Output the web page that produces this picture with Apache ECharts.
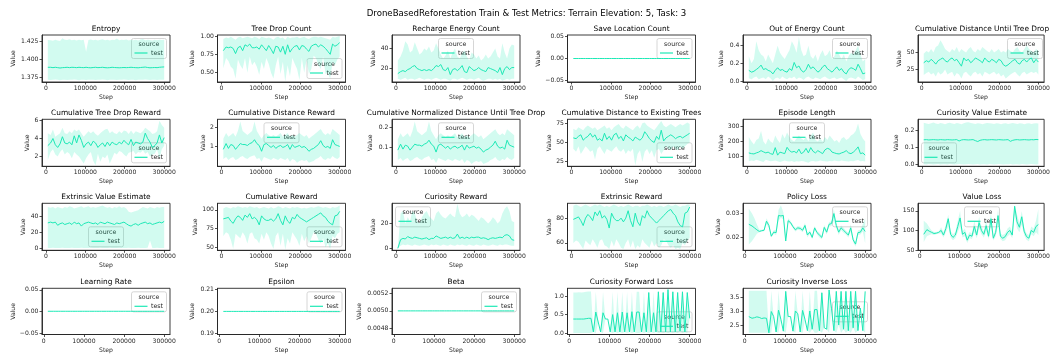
<!DOCTYPE html>
<html>
<head>
<meta charset="utf-8">
<script src="https://cdn.jsdelivr.net/npm/echarts@6/dist/echarts.min.js"></script>
<style>
html,body{margin:0;padding:0;background:#fff}
#chart{width:1053px;height:354px}
</style>
</head>
<body>
<div id="chart"></div>
<script>
// ---- data ----
var STEPS = [5000,12000,18000,24000,30000,36000,42000,48000,54000,60000,
  66000,72000,78000,84000,90000,96000,102000,108000,114000,120000,
  126000,132000,138000,144000,150000,156000,162000,168000,174000,180000,
  186000,192000,198000,204000,210000,216000,222000,228000,234000,240000,
  246000,252000,258000,264000,270000,276000,282000,288000,294000,300000];
var LOSS_STEPS = [10000,18000,24000,30000,36000,42000,48000,54000,60000,66000,
  72000,78000,84000,90000,96000,102000,108000,114000,120000,126000,
  132000,138000,144000,150000,156000,162000,168000,174000,180000,186000,
  192000,198000,204000,210000,216000,222000,228000,234000,240000,246000,
  252000,258000,264000,270000,276000,282000,288000,294000,300000];
var X_TICKS = [0, 100000, 200000, 300000];

var entropyMean = [1.3885,1.3885,1.3880,1.3885,1.3880,1.3875,1.3880,1.3882,1.3885,1.3880,
  1.3885,1.3883,1.3880,1.3885,1.3882,1.3880,1.3885,1.3880,1.3878,1.3882,
  1.3885,1.3880,1.3882,1.3885,1.3880,1.3878,1.3880,1.3885,1.3882,1.3880,
  1.3878,1.3880,1.3882,1.3880,1.3882,1.3885,1.3882,1.3880,1.3878,1.3882,
  1.3885,1.3888,1.3882,1.3878,1.3880,1.3882,1.3880,1.3885,1.3888,1.3890];
var entropyLo = [1.3712,1.3708,1.3710,1.3715,1.3710,1.3706,1.3712,1.3710,1.3708,1.3712,
  1.3710,1.3714,1.3710,1.3706,1.3710,1.3712,1.3708,1.3710,1.3713,1.3710,
  1.3708,1.3712,1.3710,1.3714,1.3710,1.3706,1.3710,1.3712,1.3710,1.3708,
  1.3712,1.3710,1.3714,1.3710,1.3708,1.3712,1.3710,1.3706,1.3710,1.3712,
  1.3710,1.3714,1.3710,1.3708,1.3712,1.3710,1.3708,1.3712,1.3710,1.3712];
var entropyHi = [1.4265,1.4262,1.4255,1.4270,1.4260,1.4250,1.4290,1.4270,1.4265,1.4275,
  1.4262,1.4270,1.4258,1.4268,1.4262,1.4270,1.4100,1.4265,1.4272,1.4262,
  1.4268,1.4260,1.4270,1.4275,1.4262,1.4268,1.4258,1.4270,1.4265,1.4285,
  1.4262,1.4270,1.4266,1.4272,1.4260,1.4268,1.4262,1.4270,1.4258,1.4272,
  1.4280,1.4262,1.4270,1.4266,1.4260,1.4268,1.4262,1.4270,1.4265,1.4268];

var treeMean = [0.80,0.85,0.84,0.85,0.83,0.76,0.84,0.86,0.80,0.88,
  0.86,0.89,0.84,0.84,0.85,0.82,0.88,0.84,0.80,0.87,
  0.82,0.76,0.86,0.85,0.78,0.86,0.75,0.88,0.78,0.83,
  0.86,0.87,0.81,0.87,0.86,0.82,0.79,0.86,0.88,0.89,
  0.85,0.88,0.86,0.83,0.79,0.75,0.89,0.86,0.88,0.91];
var treeLo = [0.56,0.70,0.66,0.58,0.55,0.42,0.68,0.60,0.55,0.70,
  0.50,0.72,0.60,0.65,0.58,0.47,0.65,0.55,0.70,0.62,
  0.50,0.42,0.60,0.72,0.48,0.65,0.38,0.60,0.45,0.70,
  0.62,0.55,0.40,0.70,0.50,0.68,0.48,0.55,0.73,0.70,
  0.60,0.55,0.72,0.48,0.50,0.42,0.65,0.60,0.68,0.72];
var treeHi = [0.96,0.98,0.97,0.99,0.97,0.95,0.98,0.99,0.97,0.98,
  0.99,0.98,0.97,0.99,0.98,0.96,0.99,0.98,0.97,0.98,
  0.97,0.95,0.98,0.99,0.97,0.98,0.95,0.99,0.97,0.98,
  0.98,0.99,0.97,0.98,0.99,0.97,0.96,0.98,0.99,0.99,
  0.98,0.99,0.98,0.97,0.96,0.95,0.99,0.98,0.99,1.00];

var rechargeMean = [15,17,18,17,19,20,22,23,20,19,
  18,19,18,19,18,20,23,22,24,19,
  18,21,14,19,20,18,20,23,17,16,
  22,20,18,19,21,19,18,17,21,20,
  19,18,16,21,14,20,22,19,21,21];
var rechargeLo = [10,9,10,11,9,10,10,9,10,11,
  10,9,10,10,9,10,11,10,9,10,
  10,9,8,10,10,9,10,11,10,9,
  10,10,9,10,11,9,8,9,10,10,
  9,10,9,10,8,9,10,9,10,10];
var rechargeHi = [28,32,38,47,44,36,38,46,40,34,
  36,40,38,42,36,38,45,40,34,30,
  33,38,30,36,40,32,30,35,38,32,
  28,36,34,30,33,28,30,34,30,32,
  36,40,32,30,45,36,30,40,44,43];

var saveMean = [0,0,0,0,0,0,0,0,0,0, 0,0,0,0,0,0,0,0,0,0, 0,0,0,0,0,0,0,0,0,0,
  0,0,0,0,0,0,0,0,0,0, 0,0,0,0,0,0,0,0,0,0];

var energyMean = [0.12,0.10,0.11,0.13,0.15,0.18,0.13,0.14,0.12,0.11,
  0.08,0.12,0.15,0.12,0.13,0.11,0.10,0.14,0.12,0.21,
  0.15,0.17,0.12,0.10,0.13,0.19,0.14,0.16,0.13,0.10,
  0.12,0.16,0.18,0.14,0.12,0.10,0.13,0.16,0.12,0.14,
  0.10,0.08,0.13,0.15,0.14,0.12,0.19,0.14,0.08,0.09];
var energyLo = [0.03,0.02,0.04,0.05,0.02,0.03,0.04,0.02,0.05,0.03,
  0.00,0.03,0.04,0.02,0.05,0.03,0.02,0.04,0.03,0.05,
  0.02,0.04,0.03,0.01,0.04,0.05,0.03,0.02,0.04,0.03,
  0.02,0.04,0.05,0.03,0.02,0.03,0.04,0.02,0.03,0.04,
  0.02,0.00,0.03,0.04,0.03,0.02,0.05,0.03,0.01,0.02];
var energyHi = [0.28,0.20,0.25,0.45,0.35,0.30,0.28,0.22,0.30,0.25,
  0.20,0.30,0.40,0.32,0.28,0.25,0.30,0.35,0.45,0.40,
  0.32,0.50,0.35,0.28,0.30,0.40,0.28,0.25,0.30,0.22,
  0.30,0.35,0.28,0.30,0.35,0.25,0.28,0.35,0.30,0.25,
  0.30,0.22,0.28,0.32,0.30,0.35,0.40,0.30,0.22,0.25];

var distDropMean = [35,38,36,40,37,33,38,40,42,38,
  36,40,42,38,40,35,30,42,38,40,
  35,38,42,40,38,35,42,38,36,40,
  38,35,40,38,32,30,32,35,38,40,
  35,33,38,40,36,40,42,35,40,36];
var distDropLo = [17,20,22,18,20,15,22,18,20,25,
  18,20,22,15,20,18,12,20,22,18,
  15,20,22,18,20,15,22,20,18,20,
  22,18,20,15,18,12,15,18,20,22,
  18,15,20,22,18,20,22,20,22,18];
var distDropHi = [48,52,50,55,50,58,60,68,62,55,
  52,50,55,52,58,50,55,52,50,55,
  58,52,50,55,52,58,55,52,50,55,
  50,52,55,50,52,50,55,52,50,55,
  58,52,50,55,60,55,52,50,55,52];

var dropRewardMean = [3.2,3.5,4.0,3.3,3.0,3.4,4.2,3.5,3.4,3.6,
  3.3,4.3,3.5,4.4,3.8,3.0,3.4,3.6,3.2,3.7,
  3.5,3.0,3.3,3.5,3.1,3.6,3.2,3.6,3.4,3.3,
  3.6,3.4,3.8,3.5,3.3,3.9,3.2,3.6,3.5,3.4,
  3.6,4.6,4.0,3.6,3.0,3.2,3.5,4.4,3.5,4.1];
var dropRewardLo = [1.6,2.5,2.8,2.2,2.0,2.5,2.8,2.2,2.5,2.3,
  1.8,2.5,2.2,2.0,1.6,1.2,1.8,2.2,2.5,1.5,
  1.0,2.3,1.4,2.0,1.8,2.2,1.2,1.8,2.4,2.2,
  2.6,2.5,2.2,2.0,2.4,2.5,2.6,2.2,2.5,2.4,
  2.7,2.3,2.5,2.0,2.2,2.3,2.8,1.8,2.8,3.2];
var dropRewardHi = [4.6,4.4,5.0,4.2,4.4,4.6,5.2,4.6,4.5,4.8,
  4.6,5.0,4.8,5.0,4.6,4.2,4.5,4.8,4.6,4.8,
  4.5,4.3,4.6,4.8,5.0,5.1,4.6,4.8,4.6,4.5,
  4.8,4.6,4.9,4.8,4.5,4.9,4.5,4.8,4.7,4.6,
  4.8,5.2,5.0,4.8,4.5,4.6,4.8,6.0,5.5,5.2];

var distRewardMean = [0.85,1.15,0.90,1.10,1.05,0.85,1.00,1.15,1.10,1.10,
  1.05,1.15,1.20,1.35,1.15,1.05,0.75,1.10,1.15,1.05,
  0.95,1.05,0.90,1.00,1.05,0.95,1.00,1.10,0.85,1.10,
  0.95,1.00,1.05,0.95,1.00,0.90,0.75,0.85,0.90,1.00,
  1.10,1.30,1.05,0.95,1.00,0.90,1.35,1.10,1.05,1.00];
var distRewardLo = [0.35,0.45,0.30,0.40,0.45,0.30,0.35,0.45,0.50,0.40,
  0.35,0.45,0.50,0.55,0.35,0.40,0.20,0.45,0.40,0.35,
  0.30,0.40,0.35,0.30,0.40,0.35,0.30,0.40,0.20,0.35,
  0.30,0.15,0.25,0.30,0.25,0.30,0.15,0.20,0.25,0.35,
  0.40,0.50,0.35,0.30,0.40,0.35,0.50,0.40,0.35,0.45];
var distRewardHi = [1.40,1.70,1.50,1.60,1.70,1.50,1.80,2.30,1.80,1.70,
  1.60,1.70,1.80,2.30,1.80,1.60,1.40,1.60,1.70,1.60,
  1.50,1.60,1.50,1.60,1.70,1.50,1.60,1.70,1.50,1.60,
  1.50,1.60,1.70,1.60,1.50,1.60,1.40,1.50,1.60,1.70,
  1.80,1.90,1.70,1.60,1.70,1.60,1.90,1.80,1.70,1.60];

var normDistMean = [0.085,0.115,0.090,0.110,0.105,0.085,0.100,0.115,0.110,0.110,
  0.105,0.115,0.120,0.135,0.115,0.105,0.075,0.110,0.115,0.105,
  0.095,0.105,0.090,0.100,0.105,0.095,0.100,0.110,0.085,0.110,
  0.095,0.100,0.105,0.095,0.100,0.090,0.075,0.085,0.090,0.100,
  0.110,0.130,0.105,0.095,0.100,0.090,0.135,0.110,0.105,0.100];
var normDistLo = [0.035,0.045,0.030,0.040,0.045,0.030,0.035,0.045,0.050,0.040,
  0.035,0.045,0.050,0.055,0.035,0.040,0.020,0.045,0.040,0.035,
  0.030,0.040,0.035,0.030,0.040,0.035,0.030,0.040,0.020,0.035,
  0.030,0.015,0.025,0.030,0.025,0.030,0.015,0.020,0.025,0.035,
  0.040,0.050,0.035,0.030,0.040,0.035,0.050,0.040,0.035,0.045];
var normDistHi = [0.140,0.170,0.150,0.160,0.170,0.150,0.180,0.230,0.180,0.170,
  0.160,0.170,0.180,0.230,0.180,0.160,0.140,0.160,0.170,0.160,
  0.150,0.160,0.150,0.160,0.170,0.150,0.160,0.170,0.150,0.160,
  0.150,0.160,0.170,0.160,0.150,0.160,0.140,0.150,0.160,0.170,
  0.180,0.190,0.170,0.160,0.170,0.160,0.190,0.180,0.170,0.160];

var treesDistMean = [56,55,58,60,53,56,58,62,57,60,
  53,55,52,62,54,58,53,60,62,55,
  58,52,60,57,55,52,57,55,53,56,
  64,60,55,52,50,58,54,66,52,56,
  58,60,58,55,57,58,56,58,60,62];
var treesDistLo = [42,38,45,35,40,45,42,38,40,28,
  42,45,40,35,42,40,38,42,45,40,
  38,42,35,40,38,42,20,35,40,25,
  38,42,35,40,30,40,42,35,40,45,
  42,40,45,42,40,45,42,45,48,50];
var treesDistHi = [68,66,70,68,66,70,72,70,68,70,
  66,68,70,72,68,70,66,70,72,74,
  70,68,72,70,68,66,70,72,68,75,
  76,72,70,68,66,70,74,78,72,70,
  72,74,72,70,72,74,72,74,76,74];

var episodeMean = [125,120,118,125,130,140,132,125,130,120,
  115,160,110,130,125,120,162,140,130,135,
  125,150,120,130,155,125,160,135,125,140,
  130,120,145,155,150,130,125,120,118,125,
  130,140,125,120,130,145,165,120,125,110];
var episodeLo = [70,75,72,80,75,70,65,80,75,70,
  72,75,70,65,70,75,70,68,72,65,
  70,68,72,70,65,60,70,72,68,70,
  75,72,70,68,72,70,75,72,70,75,
  72,70,68,72,70,75,78,70,72,68];
var episodeHi = [230,200,180,210,220,270,200,180,220,200,
  190,240,210,190,250,220,260,230,210,200,
  220,240,220,210,230,200,240,260,210,200,
  220,200,230,210,240,220,200,210,190,220,
  230,210,220,240,250,270,320,250,220,200];

var curValMean = [0.145,0.146,0.144,0.145,0.146,0.145,0.144,0.146,0.145,0.144,
  0.146,0.145,0.144,0.145,0.146,0.138,0.144,0.146,0.145,0.144,
  0.145,0.146,0.140,0.135,0.142,0.145,0.146,0.144,0.145,0.146,
  0.145,0.144,0.146,0.145,0.144,0.145,0.146,0.136,0.142,0.145,
  0.146,0.144,0.145,0.146,0.145,0.144,0.146,0.145,0.147,0.146];
var curValLo = [0.002,0.001,0.003,0.002,0.001,0.002,0.003,0.001,0.002,0.002,
  0.001,0.003,0.002,0.001,0.002,0.003,0.002,0.001,0.002,0.003,
  0.002,0.001,0.002,0.003,0.001,0.002,0.002,0.001,0.003,0.002,
  0.001,0.002,0.003,0.002,0.001,0.002,0.002,0.003,0.001,0.002,
  0.002,0.001,0.003,0.002,0.001,0.002,0.003,0.002,0.001,0.002];
var curValHi = [0.245,0.240,0.238,0.242,0.246,0.240,0.238,0.244,0.240,0.236,
  0.242,0.245,0.240,0.238,0.243,0.240,0.236,0.242,0.246,0.248,
  0.244,0.240,0.238,0.242,0.240,0.236,0.240,0.244,0.242,0.240,
  0.238,0.242,0.240,0.236,0.240,0.242,0.238,0.240,0.243,0.240,
  0.238,0.242,0.240,0.236,0.240,0.242,0.238,0.240,0.242,0.240];

var extValMean = [32,33,32,33,29,31,32,30,31,32,
  30,33,31,32,28,31,32,33,32,31,
  32,30,33,32,31,33,32,31,30,32,
  31,32,33,31,29,28,30,31,29,31,
  32,33,31,32,30,31,32,33,32,34];
var extValLo = [0.5,0.3,0.6,0.4,0.5,0.3,0.6,0.4,0.5,0.3,
  0.6,0.4,0.5,0.3,0.6,0.4,0.5,0.3,0.6,0.4,
  0.5,0.3,0.6,0.4,0.5,0.3,0.6,0.4,0.5,0.3,
  0.6,0.4,0.5,0.3,0.6,0.4,0.5,0.3,0.6,0.4,
  0.5,0.3,0.6,10.0,0.5,0.3,0.6,0.4,0.5,0.3];
var extValHi = [52,51,52,50,52,51,50,52,51,53,
  52,50,51,52,53,51,52,53,51,52,
  51,52,53,54,52,51,52,50,52,51,
  53,51,52,50,46,45,46,47,48,50,
  52,51,50,52,51,50,52,51,52,52];

var cumRewardMean = [88,89,90,85,82,88,92,90,86,93,
  90,95,88,90,87,80,92,88,86,86,
  88,85,88,95,86,80,92,85,82,90,
  88,94,90,88,86,84,86,88,90,92,
  94,96,92,90,85,82,80,92,93,98];
var cumRewardLo = [65,70,68,60,48,68,65,62,70,65,
  55,68,70,62,60,55,68,60,70,65,
  55,48,65,70,52,68,47,62,55,70,
  65,60,52,68,58,65,55,62,70,68,
  60,55,62,50,55,48,65,62,68,70];
var cumRewardHi = [102,104,103,102,104,103,105,104,103,104,
  103,105,104,103,104,102,103,104,103,102,
  104,102,103,105,104,102,104,103,102,104,
  103,104,103,102,103,102,103,104,103,104,
  105,104,103,104,103,102,104,103,104,106];

var curRewardMean = [0,7,8,7.5,9.5,8.5,8,9,8.5,8,
  7.5,8,8.5,7,8,8,10,9,8,8.5,
  9,8,9,8,8.5,11.5,8,9,8,9,
  8,9,8.5,9,9,8,8.5,8,7,8,
  8.5,8,8.5,9,8.5,10.5,11,10,7,6.5];
var curRewardLo = [0,2,3,2.5,3,2.5,2,3,2.5,2,
  2.5,3,2.5,2,3,2.5,3,2.5,2,3,
  2.5,2,3,2.5,2,3,2.5,3,2.5,2,
  3,2.5,2,3,2.5,2,3,2.5,2,2.5,
  3,2.5,2,3,2.5,3,3,2.5,2,2];
var curRewardHi = [0,28,30,20,25,22,30,28,22,20,
  25,28,30,26,24,22,28,30,27,25,
  24,26,28,26,25,36,28,25,26,28,
  25,27,26,24,22,25,24,22,20,22,
  25,23,20,22,28,32,34,30,22,21];

var extRewardMean = [79,80,81,78,74,80,83,81,78,85,
  82,86,80,82,79,72,84,80,78,78,
  80,77,80,86,78,73,84,77,74,82,
  80,86,82,80,78,76,78,80,82,84,
  86,87,84,82,77,74,73,84,85,89];
var extRewardLo = [60,62,61,58,55,62,60,58,63,60,
  56,62,63,58,57,55,62,57,63,60,
  56,55,60,63,56,62,55,58,56,63,
  60,58,56,62,57,60,56,58,63,62,
  58,56,58,55,56,55,60,58,62,64];
var extRewardHi = [90,91,90,89,90,91,90,89,90,91,
  90,91,90,89,90,89,90,91,90,89,
  90,89,90,91,90,89,90,90,89,90,
  90,91,90,89,90,89,90,90,89,90,
  91,90,90,91,90,89,90,90,91,91];

var policyMean = [0.0255,0.0248,0.0240,0.0232,0.0225,0.0228,0.0230,0.0268,0.0250,0.0205,
  0.0222,0.0220,0.0292,0.0290,0.0292,0.0185,0.0270,0.0262,0.0245,0.0232,
  0.0240,0.0238,0.0230,0.0250,0.0210,0.0222,0.0200,0.0240,0.0220,0.0210,
  0.0200,0.0242,0.0222,0.0255,0.0258,0.0300,0.0250,0.0222,0.0240,0.0230,
  0.0220,0.0210,0.0240,0.0190,0.0172,0.0220,0.0222,0.0240,0.0225];
var policyLo = [0.0170,0.0185,0.0200,0.0215,0.0222,0.0225,0.0226,0.0255,0.0240,0.0200,
  0.0215,0.0210,0.0270,0.0282,0.0275,0.0180,0.0262,0.0255,0.0238,0.0225,
  0.0232,0.0230,0.0222,0.0240,0.0200,0.0215,0.0192,0.0232,0.0212,0.0200,
  0.0192,0.0232,0.0212,0.0245,0.0248,0.0270,0.0240,0.0210,0.0230,0.0220,
  0.0212,0.0200,0.0225,0.0180,0.0162,0.0210,0.0212,0.0225,0.0175];
var policyHi = [0.0320,0.0300,0.0280,0.0255,0.0232,0.0232,0.0234,0.0280,0.0260,0.0212,
  0.0230,0.0232,0.0315,0.0335,0.0305,0.0192,0.0280,0.0270,0.0252,0.0240,
  0.0248,0.0246,0.0238,0.0260,0.0220,0.0230,0.0208,0.0248,0.0228,0.0220,
  0.0208,0.0252,0.0232,0.0265,0.0268,0.0320,0.0260,0.0235,0.0250,0.0240,
  0.0228,0.0220,0.0255,0.0200,0.0182,0.0230,0.0232,0.0255,0.0280];

var valueLossMean = [90,102,98,95,92,93,95,100,88,105,
  130,90,82,88,110,132,90,95,75,88,
  85,110,88,120,100,90,112,85,130,80,
  95,138,85,80,84,95,100,88,162,122,
  108,135,98,84,80,100,95,110,115];
var valueLossLo = [70,85,88,90,88,90,92,92,82,95,
  110,82,75,80,95,110,82,85,68,80,
  78,95,80,105,90,82,98,78,110,74,
  85,115,78,72,75,85,90,80,140,105,
  95,115,88,76,72,90,85,95,88];
var valueLossHi = [125,118,108,100,96,96,98,108,95,115,
  140,98,90,96,125,150,98,105,85,96,
  92,125,96,135,110,98,128,92,145,86,
  105,155,92,88,92,105,110,96,165,140,
  120,150,108,92,88,110,105,125,155];

var lrMean = [0.0003,0.0003,0.0003,0.0003,0.0003,0.0003,0.0003,0.0003,0.0003,0.0003,
  0.0003,0.0003,0.0003,0.0003,0.0003,0.0003,0.0003,0.0003,0.0003,0.0003,
  0.0003,0.0003,0.0003,0.0003,0.0003,0.0003,0.0003,0.0003,0.0003,0.0003,
  0.0003,0.0003,0.0003,0.0003,0.0003,0.0003,0.0003,0.0003,0.0003,0.0003,
  0.0003,0.0003,0.0003,0.0003,0.0003,0.0003,0.0003,0.0003,0.0003];
var epsilonMean = [0.2,0.2,0.2,0.2,0.2,0.2,0.2,0.2,0.2,0.2, 0.2,0.2,0.2,0.2,0.2,0.2,0.2,0.2,0.2,0.2,
  0.2,0.2,0.2,0.2,0.2,0.2,0.2,0.2,0.2,0.2, 0.2,0.2,0.2,0.2,0.2,0.2,0.2,0.2,0.2,0.2,
  0.2,0.2,0.2,0.2,0.2,0.2,0.2,0.2,0.2];
var betaMean = [0.005,0.005,0.005,0.005,0.005,0.005,0.005,0.005,0.005,0.005,
  0.005,0.005,0.005,0.005,0.005,0.005,0.005,0.005,0.005,0.005,
  0.005,0.005,0.005,0.005,0.005,0.005,0.005,0.005,0.005,0.005,
  0.005,0.005,0.005,0.005,0.005,0.005,0.005,0.005,0.005,0.005,
  0.005,0.005,0.005,0.005,0.005,0.005,0.005,0.005,0.005];

var fwdMean = [0.38,0.38,0.38,0.38,0.38,0.39,0.40,0.40,
  0.03,0.57,0.30,0.03,0.55,0.38,0.38,0.03,0.50,0.03,
  0.55,0.03,0.57,0.03,0.55,0.03,0.58,0.03,0.57,0.57,
  0.03,0.55,0.03,1.10,0.03,0.55,0.03,1.12,0.03,1.10,
  0.03,1.18,0.03,1.12,0.03,1.10,0.05,1.12,0.03,1.10,
  0.40];
var fwdLo = [0,0,0,0,0,0,0,0,
  0.03,0,0.30,0.03,0,0.38,0.38,0.03,0,0.03,
  0,0.03,0,0.03,0,0.03,0,0.03,0,0,
  0.03,0,0.03,0,0.03,0,0.03,0,0.03,0,
  0.03,0,0.03,0,0.03,0,0.05,0,0.03,0,
  0.40];
var fwdHi = [1.10,1.10,1.11,1.10,1.11,1.12,1.13,1.13,
  0.03,1.12,0.30,0.03,1.12,0.38,0.38,0.03,1.12,0.03,
  1.12,0.03,1.12,0.03,1.12,0.03,1.12,0.03,1.12,1.12,
  0.03,1.12,0.03,1.12,0.03,1.12,0.03,1.15,0.03,1.12,
  0.03,1.18,0.03,1.12,0.03,1.12,0.05,1.12,0.03,1.12,
  0.40];

var invMean = [2.80,2.74,2.76,2.79,2.77,2.73,2.75,2.74,
  2.22,2.98,2.80,2.25,3.03,2.70,2.28,3.70,2.80,2.80,
  2.28,3.00,2.90,2.25,3.02,2.70,2.30,3.00,2.35,3.05,
  3.05,2.30,3.65,2.40,2.35,3.75,3.10,2.30,3.70,2.50,
  3.70,2.35,3.70,2.30,3.70,2.40,3.70,2.30,3.10,2.30,
  3.70];
var invLo = [2.22,2.22,2.22,2.22,2.22,2.22,2.22,2.22,
  2.22,2.22,2.80,2.25,2.22,2.70,2.28,2.22,2.80,2.80,
  2.28,2.22,2.90,2.25,2.22,2.70,2.30,2.22,2.35,2.22,
  2.22,2.30,2.22,2.40,2.35,2.22,3.10,2.30,2.22,2.50,
  2.22,2.35,2.22,2.30,2.22,2.40,2.22,2.30,3.10,2.30,
  2.22];
var invHi = [3.72,3.72,3.72,3.72,3.72,3.72,3.72,3.72,
  2.22,3.72,2.80,2.25,3.72,2.70,2.28,3.72,2.80,2.80,
  2.28,3.72,2.90,2.25,3.72,2.70,2.30,3.72,2.35,3.72,
  3.72,2.30,3.72,2.40,2.35,3.75,3.10,2.30,3.72,2.50,
  3.72,2.35,3.72,2.30,3.72,2.40,3.72,2.30,3.10,2.30,
  3.72];

// ---- panels (reading order, 6 per row) ----
var panels = [
  {title: 'Entropy', x: STEPS, mean: entropyMean, lo: entropyLo, hi: entropyHi, y: [1.368, 1.4335], ticks: ['1.375', '1.400', '1.425'], legend: 'upper right'},
  {title: 'Tree Drop Count', x: STEPS, mean: treeMean, lo: treeLo, hi: treeHi, y: [0.372, 1.014], ticks: ['0.50', '0.75', '1.00'], legend: 'lower right'},
  {title: 'Recharge Energy Count', x: STEPS, mean: rechargeMean, lo: rechargeLo, hi: rechargeHi, y: [6.7, 53.3], ticks: ['20', '40'], legend: 'upper center'},
  {title: 'Save Location Count', x: STEPS, mean: saveMean, lo: saveMean, hi: saveMean, y: [-0.054, 0.054], ticks: ['-0.05', '0.00', '0.05'], legend: 'upper right'},
  {title: 'Out of Energy Count', x: STEPS, mean: energyMean, lo: energyLo, hi: energyHi, y: [-0.012, 0.522], ticks: ['0.0', '0.2', '0.4'], legend: 'upper right'},
  {title: 'Cumulative Distance Until Tree Drop', x: STEPS, mean: distDropMean, lo: distDropLo, hi: distDropHi, y: [6.9, 75.5], ticks: ['25', '50'], legend: 'upper right'},

  {title: 'Cumulative Tree Drop Reward', x: STEPS, mean: dropRewardMean, lo: dropRewardLo, hi: dropRewardHi, y: [0.89, 6.15], ticks: ['2', '4', '6'], legend: 'lower right'},
  {title: 'Cumulative Distance Reward', x: STEPS, mean: distRewardMean, lo: distRewardLo, hi: distRewardHi, y: [-0.03, 2.41], ticks: ['1', '2'], legend: 'upper center'},
  {title: 'Cumulative Normalized Distance Until Tree Drop', x: STEPS, mean: normDistMean, lo: normDistLo, hi: normDistHi, y: [0.003, 0.241], ticks: ['0.1', '0.2'], legend: 'upper center'},
  {title: 'Cumulative Distance to Existing Trees', x: STEPS, mean: treesDistMean, lo: treesDistLo, hi: treesDistHi, y: [19, 80.2], ticks: ['25', '50', '75'], legend: 'lower right'},
  {title: 'Episode Length', x: STEPS, mean: episodeMean, lo: episodeLo, hi: episodeHi, y: [36, 348], ticks: ['100', '200', '300'], legend: 'upper center'},
  {title: 'Curiosity Value Estimate', x: STEPS, mean: curValMean, lo: curValLo, hi: curValHi, y: [-0.01, 0.265], ticks: ['0.0', '0.1', '0.2'], legend: 'lower left'},

  {title: 'Extrinsic Value Estimate', x: STEPS, mean: extValMean, lo: extValLo, hi: extValHi, y: [-2.5, 56.7], ticks: ['0', '20', '40'], legend: 'lower center'},
  {title: 'Cumulative Reward', x: STEPS, mean: cumRewardMean, lo: cumRewardLo, hi: cumRewardHi, y: [46, 108.8], ticks: ['50', '75', '100'], legend: 'lower right'},
  {title: 'Curiosity Reward', x: STEPS, mean: curRewardMean, lo: curRewardLo, hi: curRewardHi, y: [-1.6, 36.3], ticks: ['0', '20'], legend: 'upper left'},
  {title: 'Extrinsic Reward', x: STEPS, mean: extRewardMean, lo: extRewardLo, hi: extRewardHi, y: [54, 92], ticks: ['60', '80'], legend: 'lower right'},
  {title: 'Policy Loss', x: LOSS_STEPS, mean: policyMean, lo: policyLo, hi: policyHi, y: [0.0146, 0.0343], ticks: ['0.02', '0.03'], legend: 'upper right'},
  {title: 'Value Loss', x: LOSS_STEPS, mean: valueLossMean, lo: valueLossLo, hi: valueLossHi, y: [49, 169.5], ticks: ['50', '100', '150'], legend: 'upper center'},

  {title: 'Learning Rate', x: LOSS_STEPS, mean: lrMean, lo: lrMean, hi: lrMean, y: [-0.0535, 0.0535], ticks: ['-0.05', '0.00', '0.05'], legend: 'upper right'},
  {title: 'Epsilon', x: LOSS_STEPS, mean: epsilonMean, lo: epsilonMean, hi: epsilonMean, y: [0.1895, 0.2105], ticks: ['0.19', '0.20', '0.21'], legend: 'upper right'},
  {title: 'Beta', x: LOSS_STEPS, mean: betaMean, lo: betaMean, hi: betaMean, y: [0.004725, 0.005263], ticks: ['0.0048', '0.0050', '0.0052'], legend: 'upper right'},
  {title: 'Curiosity Forward Loss', x: LOSS_STEPS, mean: fwdMean, lo: fwdLo, hi: fwdHi, y: [-0.04, 1.215], ticks: ['0.0', '0.5', '1.0'], legend: 'lower right'},
  {title: 'Curiosity Inverse Loss', x: LOSS_STEPS, mean: invMean, lo: invLo, hi: invHi, y: [2.16, 3.81], ticks: ['2.5', '3.0', '3.5'], legend: 'center right'}
];

// ---- layout ----
var FONT = 'DejaVu Sans';
var LINE = '#1de9b6';
var BAND = 'rgba(29,233,182,0.2)';
var INK = '#262626';
var COLS = [42, 217.5, 392, 567.5, 743, 918];
var ROWS = [35, 119.3, 203.3, 288.3];
var PW = 128, PH = 47;

function minus(s) { return s.replace('-', '\u2212'); }

function legendBox(L, T, pos) {
  var W = 35, H = 20, pad = 3.5;
  var p = pos.split(' ');
  var x = p[1] === 'right' ? L + PW - pad - W : p[1] === 'left' ? L + pad : L + (PW - W) / 2;
  var y = p[0] === 'upper' ? T + pad : p[0] === 'lower' ? T + PH - pad - H : T + (PH - H) / 2;
  return {
    type: 'group', x: x, y: y, z: 100,
    children: [
      {type: 'rect', shape: {x: 0, y: 0, width: W, height: H, r: 2},
        style: {fill: 'rgba(255,255,255,0.8)', stroke: '#cccccc', lineWidth: 0.8}},
      {type: 'text', x: W / 2, y: 5.5,
        style: {text: 'source', fontSize: 6.3, fontFamily: FONT, fill: INK, textAlign: 'center', textVerticalAlign: 'middle'}},
      {type: 'line', shape: {x1: 3, y1: 14.5, x2: 16, y2: 14.5}, style: {stroke: LINE, lineWidth: 1.2}},
      {type: 'text', x: 19.5, y: 14.5,
        style: {text: 'test', fontSize: 6.3, fontFamily: FONT, fill: INK, textAlign: 'left', textVerticalAlign: 'middle'}}
    ]
  };
}

var grids = [], xAxes = [], yAxes = [], series = [];
var graphics = [{
  type: 'text', x: 526.5, y: 14, z: 100,
  style: {text: 'DroneBasedReforestation Train & Test Metrics: Terrain Elevation: 5, Task: 3',
    fontSize: 8.6, fontFamily: FONT, fill: '#000', textAlign: 'center', textVerticalAlign: 'middle'}
}];

panels.forEach(function (p, i) {
  var L = COLS[i % 6], T = ROWS[Math.floor(i / 6)];
  var xs = p.x;
  var span = xs[xs.length - 1] - xs[0];
  var tickVals = p.ticks.map(Number);
  var labelLen = Math.max.apply(null, p.ticks.map(function (s) { return s.length; }));

  grids.push({left: L, top: T, width: PW, height: PH, show: true,
    borderColor: INK, borderWidth: 0.9, backgroundColor: 'transparent'});

  xAxes.push({
    type: 'value', gridIndex: i,
    min: xs[0] - 0.05 * span, max: xs[xs.length - 1] + 0.05 * span,
    axisLine: {show: true, onZero: false, lineStyle: {color: INK, width: 0.9}},
    axisTick: {show: true, length: 2.5, customValues: X_TICKS, lineStyle: {color: INK, width: 0.8}},
    axisLabel: {customValues: X_TICKS, fontSize: 6.1, fontFamily: FONT, color: INK, margin: 3.5,
      formatter: function (v) { return String(Math.round(v)); }},
    splitLine: {show: false},
    name: 'Step', nameLocation: 'middle', nameGap: 12.5,
    nameTextStyle: {fontSize: 6.1, fontFamily: FONT, color: INK}
  });

  yAxes.push({
    type: 'value', gridIndex: i, min: p.y[0], max: p.y[1],
    axisLine: {show: true, onZero: false, lineStyle: {color: INK, width: 0.9}},
    axisTick: {show: true, length: 2.5, customValues: tickVals, lineStyle: {color: INK, width: 0.8}},
    axisLabel: {customValues: tickVals, fontSize: 6.1, fontFamily: FONT, color: INK, margin: 3.5,
      formatter: function (v) {
        for (var k = 0; k < tickVals.length; k++) {
          if (Math.abs(v - tickVals[k]) < 1e-9) return minus(p.ticks[k]);
        }
        return '';
      }},
    splitLine: {show: false},
    name: 'Value', nameLocation: 'middle', nameGap: 3.6 * labelLen + 7.5,
    nameTextStyle: {fontSize: 6.1, fontFamily: FONT, color: INK}
  });

  // min-max band as one polygon through the axis scales
  series.push({
    type: 'custom', xAxisIndex: i, yAxisIndex: i, clip: true, silent: true, z: 1,
    data: xs.map(function (x, j) { return [x, p.lo[j], p.hi[j]]; }),
    renderItem: function (params, api) {
      if (params.dataIndex !== 0) return null;
      var top = xs.map(function (x, j) { return api.coord([x, p.hi[j]]); });
      var bot = xs.map(function (x, j) { return api.coord([x, p.lo[j]]); }).reverse();
      return {type: 'polygon', shape: {points: top.concat(bot)}, style: {fill: BAND, stroke: null}};
    }
  });

  series.push({
    type: 'line', xAxisIndex: i, yAxisIndex: i, z: 3,
    data: xs.map(function (x, j) { return [x, p.mean[j]]; }),
    showSymbol: false, symbol: 'none', silent: true,
    lineStyle: {color: LINE, width: 1}
  });

  graphics.push({
    type: 'text', x: L + PW / 2, y: T - 6.3, z: 100,
    style: {text: p.title, fontSize: 7.4, fontFamily: FONT, fill: '#000', textAlign: 'center', textVerticalAlign: 'middle'}
  });
  graphics.push(legendBox(L, T, p.legend));
});

var chart = echarts.init(document.getElementById('chart'), null, {renderer: 'canvas'});
chart.setOption({
  animation: false,
  backgroundColor: '#fff',
  grid: grids,
  xAxis: xAxes,
  yAxis: yAxes,
  series: series,
  graphic: graphics
});
</script>
</body>
</html>
